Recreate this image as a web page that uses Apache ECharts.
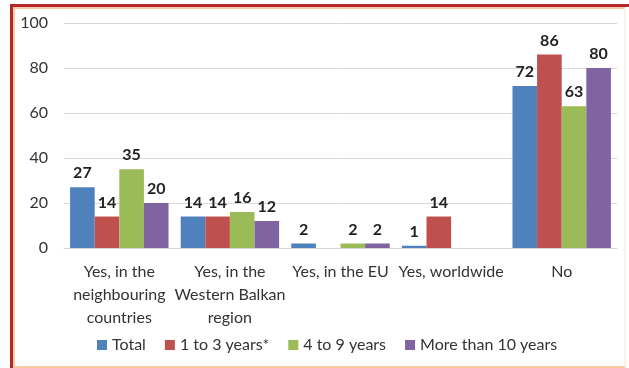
<!DOCTYPE html>
<html>
<head>
<meta charset="utf-8">
<script src="https://cdn.jsdelivr.net/npm/echarts@6/dist/echarts.min.js"></script>
<style>
  html, body { margin: 0; padding: 0; background: #fff; }
  #frame { position: absolute; left: 10px; top: 4px; width: 619px; height: 364px;
           border-top: 3px solid #b3282a; border-left: 3px solid #b3282a; box-sizing: border-box; }
  #inner { position: absolute; left: 0; top: 0; right: 3px; bottom: 0;
           border: 2px solid #f7cba4; border-right: 2px solid #fbf3ea; box-sizing: border-box; }
  #chart { position: absolute; left: 0; top: 0; width: 629px; height: 368px; }
</style>
</head>
<body>
<div id="frame"><div id="inner"></div></div>
<div id="chart"></div>
<script>
const categories = ['Yes, in the\nneighbouring\ncountries', 'Yes, in the\nWestern Balkan\nregion', 'Yes, in the EU', 'Yes, worldwide', 'No'];
const seriesNames = ['Total', '1 to 3 years*', '4 to 9 years', 'More than 10 years'];
const total = [27, 14, 2, 1, 72];
const years1to3 = [14, 14, null, 14, 86];
const years4to9 = [35, 16, 2, null, 63];
const years10plus = [20, 12, 2, null, 80];
const colors = ['#4f81bd', '#c0504d', '#9bbb59', '#8064a2'];
const yTicks = { min: 0, max: 100, interval: 20 };

const font = 'Lato, "Open Sans", sans-serif';
const values = [total, years1to3, years4to9, years10plus];

const chart = echarts.init(document.getElementById('chart'), null, { renderer: 'canvas' });
chart.setOption({
  animation: false,
  color: colors,
  grid: { left: 64, right: 12, top: 23, bottom: 120 },
  legend: {
    bottom: 10, left: 92,
    itemWidth: 10, itemHeight: 10, itemGap: 19,
    icon: 'rect',
    textStyle: { fontFamily: font, fontSize: 16, color: '#333' },
    data: seriesNames
  },
  xAxis: {
    type: 'category', data: categories,
    axisLine: { lineStyle: { color: '#d9d9d9' } },
    axisTick: { show: false },
    axisLabel: { fontFamily: font, fontSize: 16, color: '#333', lineHeight: 23, margin: 12, interval: 0 }
  },
  yAxis: {
    type: 'value', min: yTicks.min, max: yTicks.max, interval: yTicks.interval,
    axisLine: { show: false }, axisTick: { show: false },
    splitLine: { lineStyle: { color: '#d9d9d9' } },
    axisLabel: { fontFamily: font, fontSize: 16, color: '#333', margin: 16 }
  },
  series: seriesNames.map((name, i) => ({
    name, type: 'bar', data: values[i],
    barGap: '0%', barCategoryGap: '11%',
    label: { show: true, position: 'top', distance: 6, fontFamily: font, fontWeight: 'bold',
             fontSize: 16, color: '#222' }
  }))
});
</script>
</body>
</html>
